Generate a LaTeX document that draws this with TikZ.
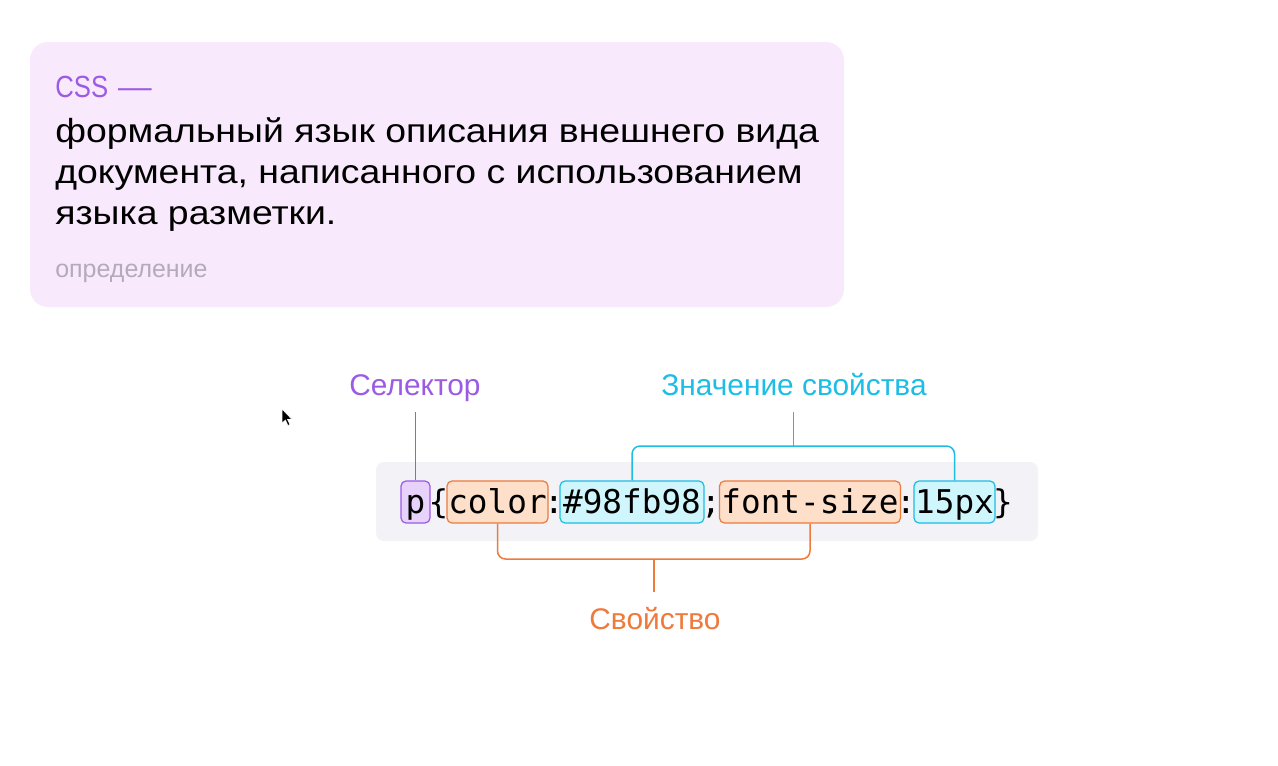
\documentclass[tikz,border=0pt]{standalone}
\usepackage{fontspec}
\setmainfont{Liberation Sans}
\setmonofont{DejaVu Sans Mono}
\usepackage{xcolor}
\usetikzlibrary{positioning}

\definecolor{cardfill}{HTML}{F8EAFC}
\definecolor{codebg}{HTML}{F3F2F7}
\definecolor{selcol}{HTML}{9B5BE3}
\definecolor{selfill}{HTML}{E6D2FA}
\definecolor{valcol}{HTML}{1DBDE6}
\definecolor{valfill}{HTML}{CFF6FC}
\definecolor{propcol}{HTML}{EE7A3C}
\definecolor{propfill}{HTML}{FDDFCA}
\definecolor{notecol}{HTML}{B3AABB}

\newcommand{\widetext}[1]{\scalebox{1.12}[1]{#1}}

\tikzset{
  cardtext/.style={inner sep=0pt, anchor=base west, font=\fontsize{19}{23}\selectfont},
  tok/.style={inner sep=0pt, anchor=base, text height=0.53cm, text depth=0.09cm,
    font=\ttfamily\fontsize{18.6}{22}\selectfont},
  tokbox/.style={tok, draw, rounded corners=0.1cm, line width=0.7pt, inner ysep=0.11cm},
  selbox/.style={tokbox, draw=selcol, fill=selfill},
  propbox/.style={tokbox, draw=propcol, fill=propfill},
  valbox/.style={tokbox, draw=valcol, fill=valfill},
  tag/.style={inner sep=0pt, anchor=base, text height=0.44cm, text depth=0.12cm,
    font=\fontsize{17}{20}\selectfont},
  wire/.style={line width=0.85pt, rounded corners=0.16cm}
}

\begin{document}
\begin{tikzpicture}[x=0.02cm, y=-0.02cm]
\useasboundingbox[fill=white] (0,0) rectangle (1278,765);

% карточка с определением
\fill[cardfill, rounded corners=0.36cm] (30,42) rectangle (844,307);
\node[cardtext, text=selcol, font=\fontsize{17.4}{20}\selectfont] (title) at (55,97)
  {\scalebox{0.84}[1]{CSS}\hspace{0.2cm}\scalebox{1.1}[1]{—}};
\node[cardtext] (line1) at (55,142) {\widetext{формальный язык описания внешнего вида}};
\node[cardtext] (line2) at (55,183) {\widetext{документа, написанного с использованием}};
\node[cardtext] (line3) at (55,224) {\widetext{языка разметки.}};
\node[cardtext, text=notecol, font=\fontsize{14.2}{17}\selectfont] (note) at (55,277) {определение};

% курсор
\filldraw[black, draw=white, line width=0.3pt] (282,409) -- (282,423) -- (285.5,420) -- (288,425.5)
  -- (290,424.5) -- (287.5,419.5) -- (292,419.5) -- cycle;

% строка кода
\fill[codebg, rounded corners=0.16cm] (376,462) rectangle (1038,541);
\node[selbox, minimum width=0.58cm] (sel) at (415.5,513) {p};
\node[tok] (open) at (438.5,513) {\{};
\node[propbox, minimum width=2.02cm] (color) at (497.5,513) {color};
\node[tok] (colon1) at (554,513) {:};
\node[valbox, minimum width=2.88cm] (hex) at (632,513) {\#98fb98};
\node[tok] (semi) at (711,513) {;};
\node[propbox, minimum width=3.62cm] (size) at (810,513) {font-size};
\node[tok] (colon2) at (906,513) {:};
\node[valbox, minimum width=1.62cm] (px) at (954.5,513) {15px};
\node[tok] (close) at (1003,513) {\}};

% подписи
\node[tag, text=selcol] (sellabel) at (415,395) {Селектор};
\node[tag, text=valcol] (vallabel) at (794,395) {Значение свойства};
\node[tag, text=propcol] (proplabel) at (655,629) {Свойство};

\coordinate (valjoin) at (793.5,446);
\coordinate (propjoin) at (654,559);

\draw[wire, selcol, shorten >=0.22cm] (sel.north) -- (sel.north |- sellabel.south);
\draw[wire, valcol] (hex.north) |- (valjoin) -| (px.north);
\draw[wire, valcol, shorten >=0.22cm] (valjoin) -- (valjoin |- vallabel.south);
\draw[wire, propcol] (color.south) |- (propjoin) -| (size.south);
\draw[wire, propcol, shorten >=0.3cm] (propjoin) -- (propjoin |- proplabel.north);

\end{tikzpicture}
\end{document}
